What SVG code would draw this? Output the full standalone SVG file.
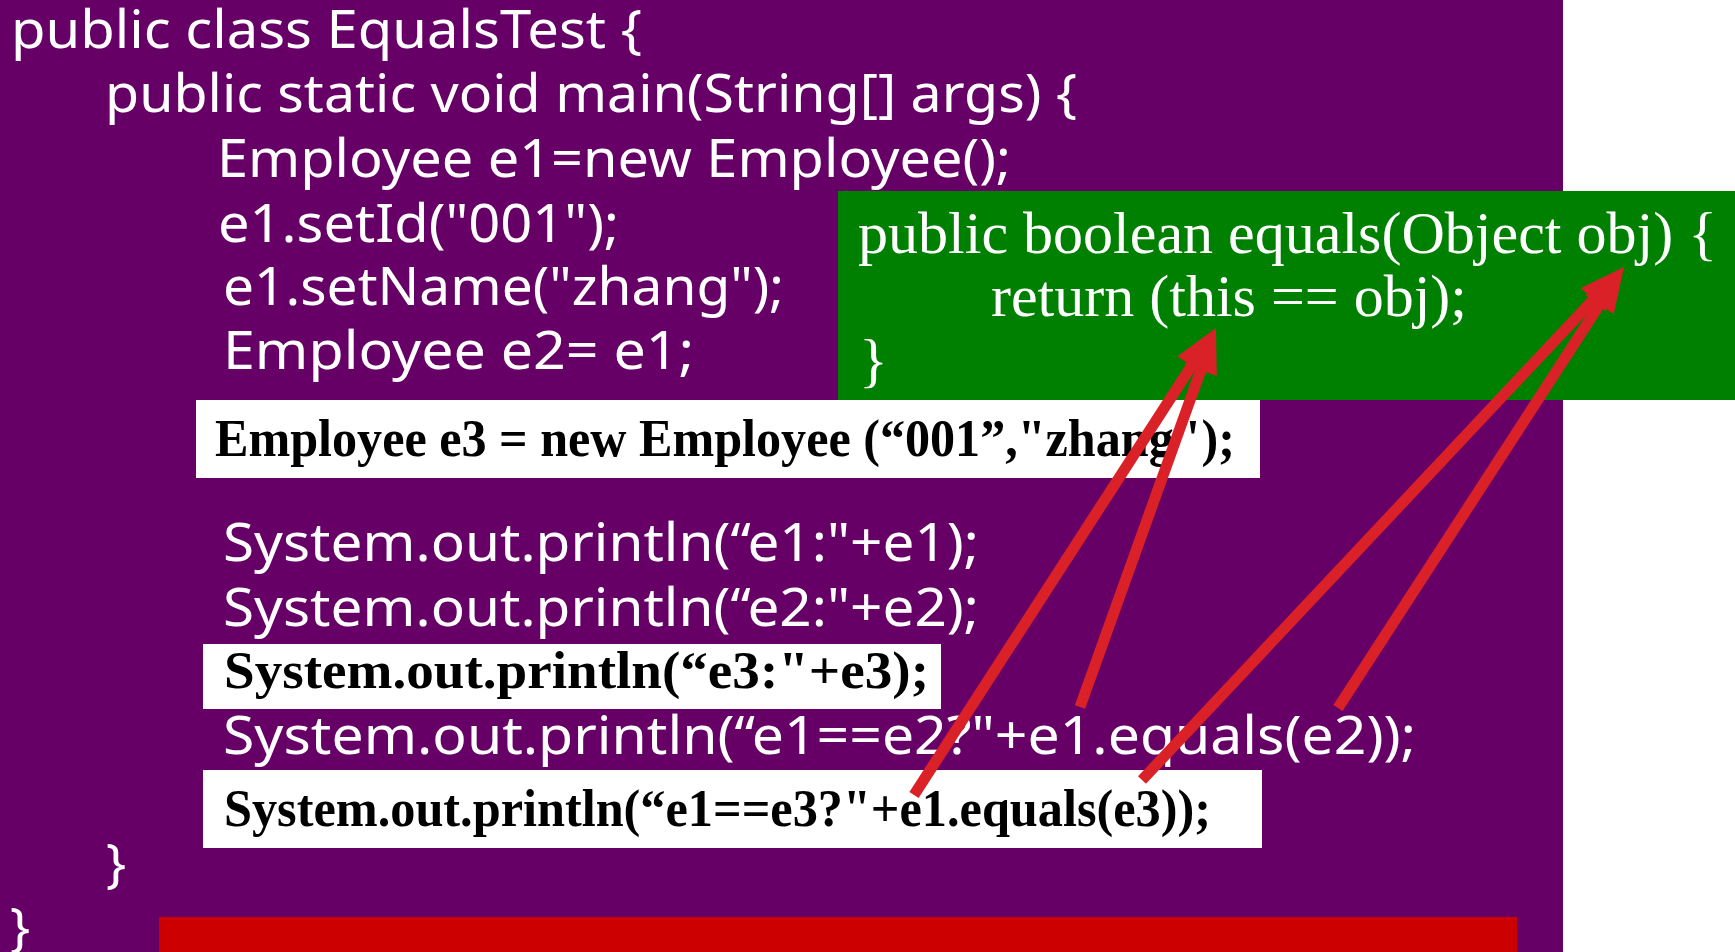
<svg xmlns="http://www.w3.org/2000/svg" width="1735" height="952" viewBox="0 0 1735 952">
  <defs>
    <style>
      .code { font-family: "Noto Sans", "DejaVu Sans", sans-serif; font-size: 53px; fill: #ffffff; }
      .mark { font-family: "Liberation Serif", "Times New Roman", serif; font-size: 53px; font-weight: bold; fill: #000000; }
      .meth { font-family: "Liberation Serif", "Times New Roman", serif; font-size: 60px; fill: #ffffff; }
      .hl { fill: #ffffff; }
      .ptr { fill: none; stroke: #da2128; stroke-width: 11; stroke-linecap: butt; marker-end: url(#head); }
    </style>
    <marker id="head" viewBox="0 0 45 34" refX="20" refY="17" markerWidth="45" markerHeight="34" markerUnits="userSpaceOnUse" orient="auto">
      <path d="M0,0 L45,17 L0,34 z" fill="#da2128"/>
    </marker>
  </defs>

  <!-- page background -->
  <rect x="0" y="0" width="1735" height="952" fill="#ffffff"/>
  <rect x="0" y="0" width="1563" height="952" fill="#660066"/>

  <!-- main method source -->
  <g id="main-class">
    <text class="code" x="11" y="48" textLength="631" lengthAdjust="spacingAndGlyphs">public class EqualsTest {</text>
    <text class="code" x="105" y="112" textLength="972" lengthAdjust="spacingAndGlyphs">public static void main(String[] args) {</text>
    <text class="code" x="217" y="177" textLength="794" lengthAdjust="spacingAndGlyphs">Employee e1=new Employee();</text>
    <text class="code" x="218" y="242" textLength="401" lengthAdjust="spacingAndGlyphs">e1.setId("001");</text>
    <text class="code" x="223" y="305" textLength="561" lengthAdjust="spacingAndGlyphs">e1.setName("zhang");</text>
    <text class="code" x="223" y="369" textLength="471" lengthAdjust="spacingAndGlyphs">Employee e2= e1;</text>
    <text class="code" x="223" y="561" textLength="756" lengthAdjust="spacingAndGlyphs">System.out.println(“e1:"+e1);</text>
    <text class="code" x="223" y="626" textLength="756" lengthAdjust="spacingAndGlyphs">System.out.println(“e2:"+e2);</text>
    <text class="code" x="223" y="754" textLength="1193" lengthAdjust="spacingAndGlyphs">System.out.println(“e1==e2?"+e1.equals(e2));</text>
    <text class="code" x="106" y="882">}</text>
    <text class="code" x="10" y="946">}</text>
  </g>

  <!-- equals() implementation -->
  <g id="equals-method">
    <rect x="838" y="191" width="897" height="209" fill="#008000"/>
    <text class="meth" x="858" y="253" textLength="859" lengthAdjust="spacingAndGlyphs">public boolean equals(Object obj) {</text>
    <text class="meth" x="991" y="316" textLength="476" lengthAdjust="spacingAndGlyphs">return (this == obj);</text>
    <text class="meth" x="859" y="380">}</text>
  </g>

  <!-- highlighted statements -->
  <g id="new-e3">
    <rect class="hl" x="196" y="400" width="1064" height="78"/>
    <text class="mark" x="215" y="456" textLength="1020" lengthAdjust="spacingAndGlyphs">Employee e3 = new Employee (“001”,"zhang");</text>
  </g>
  <g id="print-e3">
    <rect class="hl" x="203" y="644" width="738" height="65"/>
    <text class="mark" x="224" y="688" textLength="705" lengthAdjust="spacingAndGlyphs">System.out.println(“e3:"+e3);</text>
  </g>
  <g id="compare-e3">
    <rect class="hl" x="203" y="770" width="1059" height="78"/>
    <text class="mark" x="224" y="826" textLength="987" lengthAdjust="spacingAndGlyphs">System.out.println(“e1==e3?"+e1.equals(e3));</text>
  </g>

  <!-- footer bar -->
  <g id="footer-bar">
    <rect x="159" y="917" width="1358" height="35" fill="#cc0000"/>
  </g>

  <!-- calls pointing into equals() -->
  <g id="connectors">
    <line class="ptr" x1="914" y1="795" x2="1202.4" y2="349"/>
    <line class="ptr" x1="1080" y1="707" x2="1207.5" y2="351.5"/>
    <line class="ptr" x1="1142" y1="780" x2="1606.9" y2="285.2"/>
    <line class="ptr" x1="1338" y1="708" x2="1610.4" y2="288"/>
  </g>
</svg>
